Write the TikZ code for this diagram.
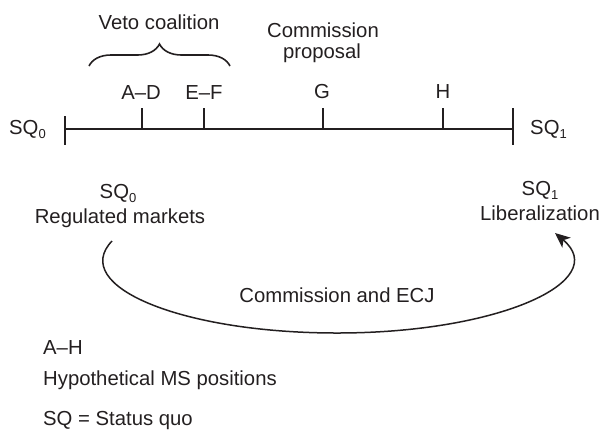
\documentclass[tikz,border=0pt]{standalone}
\usepackage{fontspec}
\setmainfont{Liberation Sans}
\usetikzlibrary{arrows.meta,decorations.pathreplacing}
\definecolor{ink}{RGB}{35,31,32}
\newcommand\subsc[1]{\raisebox{-4pt}{\fontsize{13}{13}\selectfont #1}}
\tikzset{
  lbl/.style={inner sep=0pt, anchor=base, text=ink, font=\fontsize{20.3}{22}\selectfont},
  lblw/.style={lbl, anchor=base west},
  axis/.style={draw=ink, line width=1.9pt},
  tickmark/.style={draw=ink, line width=1.9pt},
  arcline/.style={draw=ink, line width=1.5pt, -{Stealth[length=15pt,width=13pt,inset=4pt]}},
  bracepath/.style={draw=ink, line width=1.6pt, decorate, decoration={brace, amplitude=22pt, aspect=0.5}}
}
\begin{document}
\begin{tikzpicture}[x=1pt,y=-1pt]
\useasboundingbox (0,0) rectangle (604,429);
% axis
\coordinate (L) at (65,129);
\coordinate (R) at (513,129);
\draw[axis] (L) -- (R);
\draw[tickmark] (65,116) -- (65,145);
\draw[tickmark] (513,108) -- (513,145);
\coordinate (tAD) at (142,129);
\coordinate (tEF) at (204,129);
\coordinate (tG) at (323,129);
\coordinate (tH) at (443,129);
\foreach \t in {tAD,tEF,tG,tH} \draw[tickmark] (\t) -- ++(0,-21);
% labels on axis
\node[lbl] (ad) at (141,99) {A–D};
\node[lbl] (ef) at (204,99) {E–F};
\node[lbl] (g) at (322,98) {G};
\node[lbl] (h) at (443,98) {H};
\node[lblw] (sq0) at (9,134) {SQ\subsc{0}};
\node[lblw] (sq1) at (530,134) {SQ\subsc{1}};
% brace and top labels
\coordinate (bA) at (89,66);
\coordinate (bB) at (230,66);
\draw[bracepath] (bA) -- (bB);
\node[lbl] (veto) at (159,29) {Veto coalition};
\node[lbl] (comm) at (323,37) {Commission};
\node[lbl] (prop) at (322,58) {proposal};
% lower labels
\node[lbl] (sq0b) at (118,198) {SQ\subsc{0}};
\node[lbl] (reg) at (120,223) {Regulated markets};
\node[lbl] (sq1b) at (540,195) {SQ\subsc{1}};
\node[lbl] (lib) at (540,220) {Liberalization};
% arc
\coordinate (arcS) at (112,241);
\coordinate (arcB) at (337,333);
\coordinate (arcE) at (555,233);
\draw[arcline] (arcS) .. controls (69,286) and (181,333) .. (arcB)
  .. controls (499,333) and (612,281) .. (arcE);
\node[lbl] (ecj) at (337,302) {Commission and ECJ};
% legend
\node[lblw] (leg1) at (43,354) {A–H};
\node[lblw] (leg2) at (43,385) {Hypothetical MS positions};
\node[lblw] (leg3) at (43,425) {SQ = Status quo};
\end{tikzpicture}
\end{document}
